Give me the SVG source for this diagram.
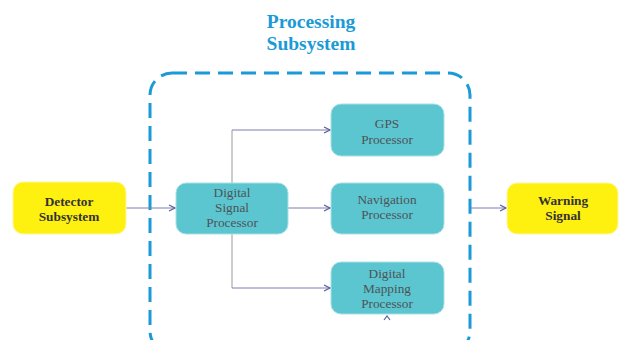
<svg xmlns="http://www.w3.org/2000/svg" width="619" height="340" viewBox="0 0 619 340">
<defs>
<style>
.yel{fill:#fff10f;stroke:#fff6a0;stroke-width:1}
.teal{fill:#5bc6cf;stroke:#a9e0e5;stroke-width:1}
.tb{font-family:"Liberation Serif","Times New Roman",serif;font-size:13.3px;font-weight:bold;fill:#333;text-anchor:middle}
.tn{font-family:"Liberation Serif","Times New Roman",serif;font-size:13.3px;fill:#4e5358;text-anchor:middle}
.title{font-family:"Liberation Serif","Times New Roman",serif;font-size:19.5px;font-weight:bold;fill:#1a9ad6;text-anchor:middle}
.conn{fill:none;stroke:#7a7fae;stroke-width:1}
.vline{fill:none;stroke:#9a9a9a;stroke-width:1}
</style>
<marker id="ah" viewBox="0 0 8 8" refX="7" refY="4" markerWidth="8" markerHeight="8" markerUnits="userSpaceOnUse" orient="auto">
<path d="M1,1 L7,4 L1,7" fill="none" stroke="#5a5f9a" stroke-width="1.2"/>
</marker>
</defs>
<rect width="619" height="340" fill="#ffffff"/>
<g id="processing-subsystem">
<rect x="150" y="73" width="320" height="280" rx="22" fill="none" stroke="#1a9ad6" stroke-width="3" stroke-dasharray="15 8"/>
<text class="title" x="311" y="28">Processing</text>
<text class="title" x="311" y="50">Subsystem</text>
</g>
<g id="connectors">
<path class="vline" d="M232,130 V288"/>
<path class="conn" d="M232,130 H330" marker-end="url(#ah)"/>
<path class="conn" d="M288,208 H330" marker-end="url(#ah)"/>
<path class="conn" d="M232,288 H330" marker-end="url(#ah)"/>
<path class="conn" d="M126,208 H175" marker-end="url(#ah)"/>
<path class="conn" d="M470,208 H506" marker-end="url(#ah)"/>
<path d="M384,320 L387,316 L390,320" fill="none" stroke="#5a5f9a" stroke-width="1.2"/>
</g>
<g id="detector">
<rect class="yel" x="13" y="182" width="113" height="52" rx="10"/>
<text class="tb" x="69" y="206">Detector</text>
<text class="tb" x="69" y="221">Subsystem</text>
</g>
<g id="dsp">
<rect class="teal" x="176" y="183" width="112" height="51" rx="10"/>
<text class="tn" x="232" y="197">Digital</text>
<text class="tn" x="232" y="212">Signal</text>
<text class="tn" x="232" y="227">Processor</text>
</g>
<g id="gps">
<rect class="teal" x="331" y="104" width="113" height="52" rx="10"/>
<text class="tn" x="387" y="128">GPS</text>
<text class="tn" x="387" y="144">Processor</text>
</g>
<g id="navigation">
<rect class="teal" x="331" y="183" width="113" height="51" rx="10"/>
<text class="tn" x="387" y="204">Navigation</text>
<text class="tn" x="387" y="219">Processor</text>
</g>
<g id="mapping">
<rect class="teal" x="331" y="262" width="113" height="52" rx="10"/>
<text class="tn" x="387" y="278">Digital</text>
<text class="tn" x="387" y="293">Mapping</text>
<text class="tn" x="387" y="308">Processor</text>
</g>
<g id="warning">
<rect class="yel" x="507" y="183" width="111" height="51" rx="10"/>
<text class="tb" x="563" y="205">Warning</text>
<text class="tb" x="563" y="220">Signal</text>
</g>
</svg>
